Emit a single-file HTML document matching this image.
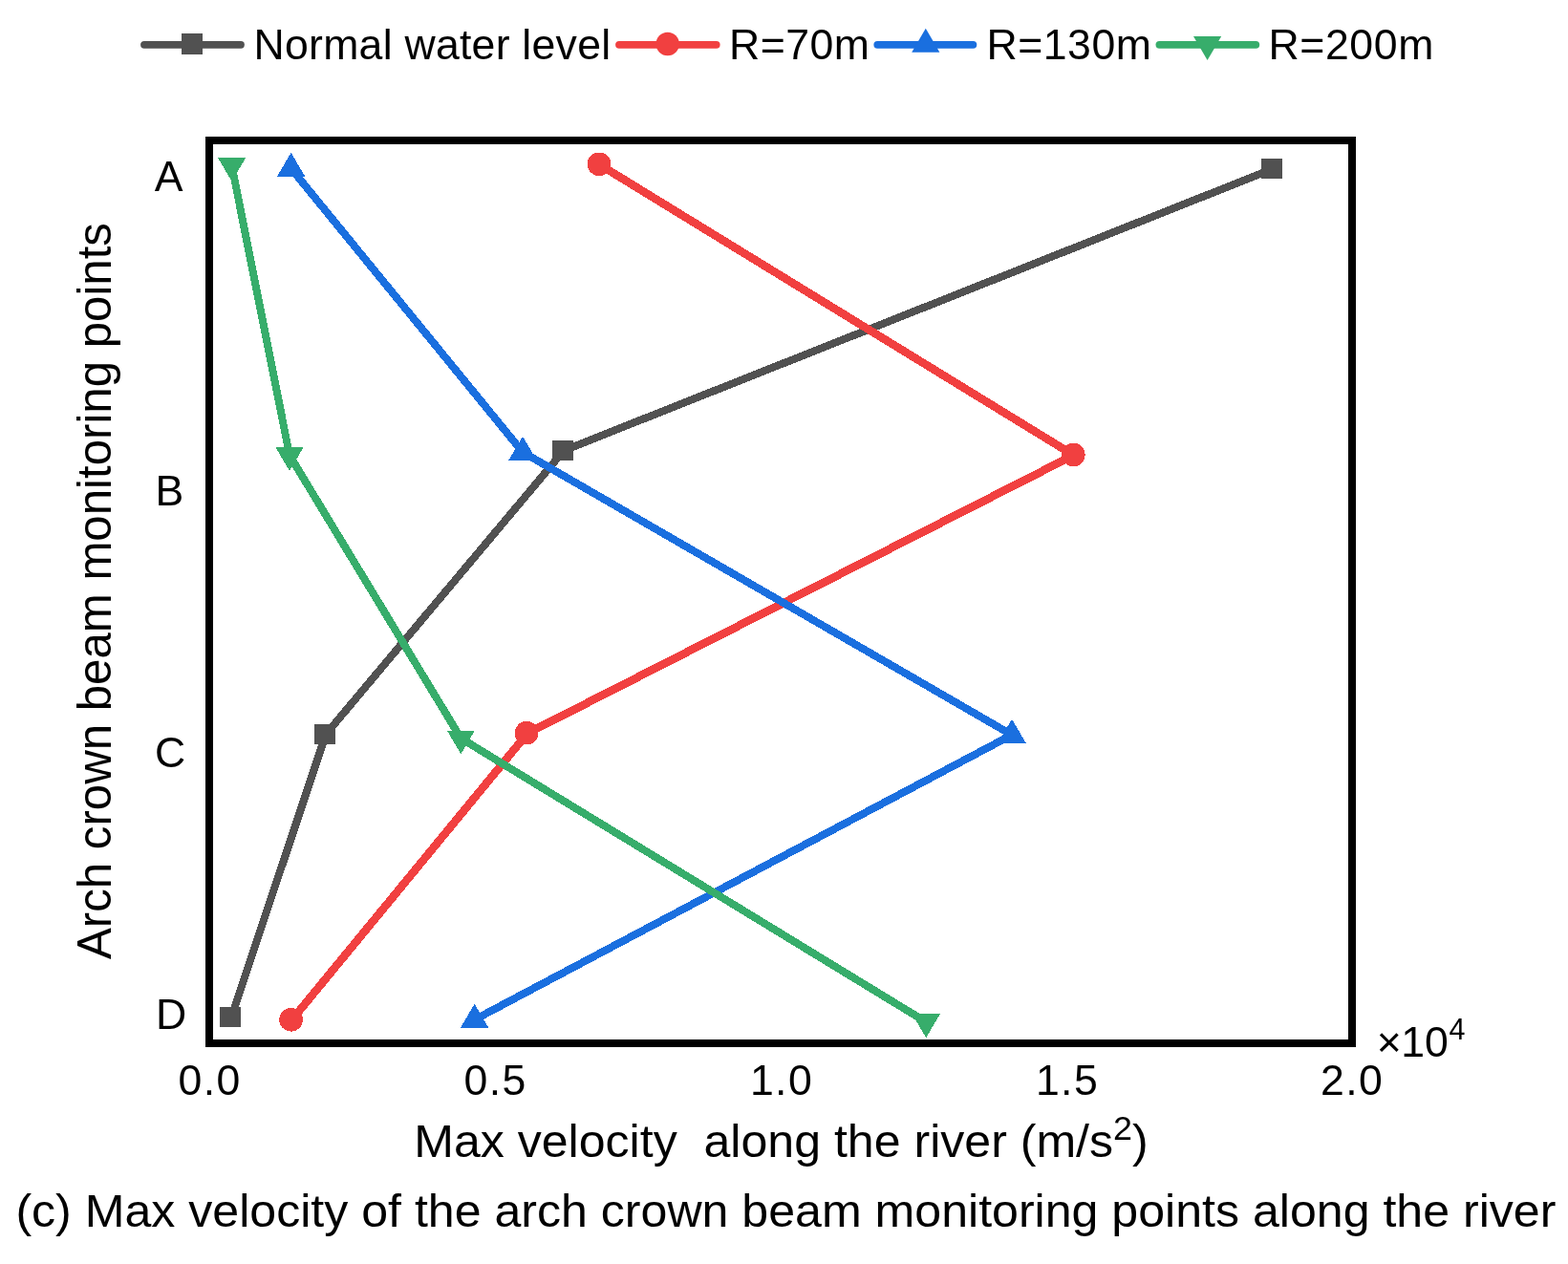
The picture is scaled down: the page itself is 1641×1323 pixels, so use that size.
<!DOCTYPE html>
<html>
<head>
<meta charset="utf-8">
<title>Max velocity of the arch crown beam monitoring points along the river</title>
<style>
html,body{margin:0;padding:0;background:#fff;}
body{width:1641px;height:1323px;overflow:hidden;}
svg{display:block;}
text{font-family:"Liberation Sans",Arial,Helvetica,sans-serif;fill:#000;}
.t44{font-size:44.6px;}
.ttl{font-size:49.2px;}
.xtl{font-size:48.2px;}
.cap{font-size:49px;}
.sup{font-size:30.5px;}
</style>
</head>
<body>
<svg width="1641" height="1323" viewBox="0 0 1641 1323">
<rect x="0" y="0" width="1641" height="1323" fill="#ffffff"/>

<!-- legend -->
<g id="legend" shape-rendering="crispEdges">
  <line x1="151" y1="46.8" x2="252" y2="46.8" stroke="#515151" stroke-width="7.8" stroke-linecap="round" shape-rendering="auto"/>
  <rect x="190.2" y="35.3" width="22" height="21.5" fill="#515151"/>
  <line x1="648" y1="46.8" x2="749.7" y2="46.8" stroke="#F14040" stroke-width="7.8" stroke-linecap="round" shape-rendering="auto"/>
  <circle cx="698.7" cy="46" r="12.2" fill="#F14040" shape-rendering="auto"/>
  <line x1="918.3" y1="46.8" x2="1018.4" y2="46.8" stroke="#1A6FDF" stroke-width="7.8" stroke-linecap="round" shape-rendering="auto"/>
  <polygon points="968.8,29.7 983.4,54.8 954.2,54.8" fill="#1A6FDF" shape-rendering="auto"/>
  <line x1="1213.4" y1="46.8" x2="1314.3" y2="46.8" stroke="#37AD6B" stroke-width="7.8" stroke-linecap="round" shape-rendering="auto"/>
  <polygon points="1249,38.1 1278.2,38.1 1263.6,62.9" fill="#37AD6B" shape-rendering="auto"/>
</g>
<text id="lg1" class="t44" x="265.6" y="61.8" textLength="373.5">Normal water level</text>
<text id="lg2" class="t44" x="763" y="61.8" textLength="147">R=70m</text>
<text id="lg3" class="t44" x="1032.4" y="61.8" textLength="172.5">R=130m</text>
<text id="lg4" class="t44" x="1327.4" y="61.8" textLength="173">R=200m</text>

<!-- series -->
<g id="series" shape-rendering="crispEdges" fill="none" stroke-width="8" stroke-linejoin="round" stroke-linecap="butt">
  <polyline points="1332,176.8 590.2,471.5 341.1,768.4 242.1,1064.8" stroke="#515151"/>
  <g fill="#515151" stroke="none">
    <rect x="1320" y="166" width="22" height="21"/>
    <rect x="578.2" y="460.8" width="22" height="21"/>
    <rect x="329" y="757.9" width="22" height="21"/>
    <rect x="230" y="1054.3" width="22" height="21"/>
  </g>
  <polyline points="627.3,172.2 1123.6,476.4 552,767.6 305.6,1067.3" stroke="#F14040" stroke-width="8.5"/>
  <g fill="#F14040" stroke="none">
    <circle cx="627" cy="171.8" r="12.3"/>
    <circle cx="1123.3" cy="476" r="12.3"/>
    <circle cx="551" cy="767.2" r="12.3"/>
    <circle cx="304.6" cy="1067.3" r="12.3"/>
  </g>
  <polyline points="304.6,176.3 547,473.2 1059,769.2 496.6,1067.3" stroke="#1A6FDF"/>
  <g fill="#1A6FDF" stroke="none">
    <polygon points="304.6,159.8 319.2,184.6 290,184.6"/>
    <polygon points="547,456.7 561.6,481.5 532.4,481.5"/>
    <polygon points="1059,752.7 1073.6,777.5 1044.4,777.5"/>
    <polygon points="496.6,1050.8 511.2,1075.6 482,1075.6"/>
  </g>
  <polyline points="242.6,173.4 303,476.5 482.4,772.8 969.2,1069.7" stroke="#37AD6B"/>
  <g fill="#37AD6B" stroke="none">
    <polygon points="228,165.1 257.2,165.1 242.6,189.9"/>
    <polygon points="288.4,468.2 317.6,468.2 303,493"/>
    <polygon points="467.8,764.5 497,764.5 482.4,789.3"/>
    <polygon points="954.6,1061.4 983.8,1061.4 969.2,1086.2"/>
  </g>
</g>

<!-- frame -->
<rect x="219" y="147" width="1196" height="945" fill="none" stroke="#000" stroke-width="8" shape-rendering="crispEdges"/>

<!-- y tick labels -->
<text id="ya" class="t44" x="176.6" y="200" text-anchor="middle">A</text>
<text id="yb" class="t44" x="177.3" y="529" text-anchor="middle">B</text>
<text id="yc" class="t44" x="178" y="802.7" text-anchor="middle">C</text>
<text id="yd" class="t44" x="179" y="1076.8" text-anchor="middle">D</text>

<!-- x tick labels -->
<text id="x0" class="t44" letter-spacing="1.4" x="219.7" y="1145.6" text-anchor="middle">0.0</text>
<text id="x1" class="t44" letter-spacing="1.4" x="518.7" y="1145.6" text-anchor="middle">0.5</text>
<text id="x2" class="t44" letter-spacing="1.4" x="818" y="1145.6" text-anchor="middle">1.0</text>
<text id="x3" class="t44" letter-spacing="1.4" x="1117" y="1145.6" text-anchor="middle">1.5</text>
<text id="x4" class="t44" letter-spacing="1.4" x="1415.2" y="1145.6" text-anchor="middle">2.0</text>
<text id="xe" class="t44" x="1440.8" y="1105.7">×<tspan dx="-0.6">10</tspan><tspan class="sup" dx="0.6" dy="-17.7">4</tspan></text>

<!-- axis titles -->
<text id="xt" class="xtl" x="433.2" textLength="768.5" lengthAdjust="spacingAndGlyphs" y="1211.4" xml:space="preserve">Max velocity  along the river (m/s<tspan dy="-18.7" style="font-size:34.5px">2</tspan><tspan dy="18.7">)</tspan></text>
<text id="yt" class="ttl" transform="translate(116,1004) rotate(-90)">Arch crown beam monitoring points</text>

<!-- caption -->
<text id="cp" class="cap" x="16.4" y="1284.1" textLength="1612" lengthAdjust="spacingAndGlyphs">(c) Max velocity of the arch crown beam monitoring points along the river</text>
</svg>
</body>
</html>
